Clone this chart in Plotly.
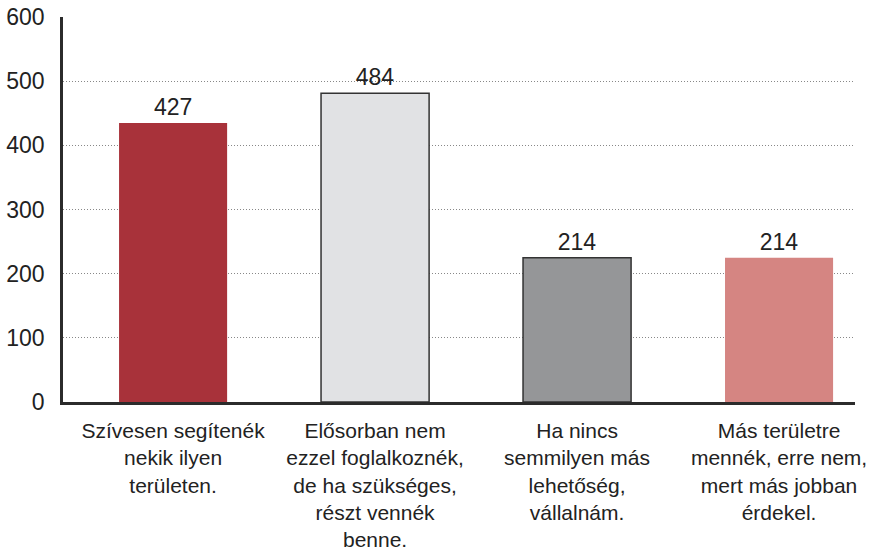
import plotly.graph_objects as go

# Answer categories (Hungarian survey)
categories = [
    "Szívesen segítenék<br>nekik ilyen<br>területen.",
    "Elősorban nem<br>ezzel foglalkoznék,<br>de ha szükséges,<br>részt vennék<br>benne.",
    "Ha nincs<br>semmilyen más<br>lehetőség,<br>vállalnám.",
    "Más területre<br>mennék, erre nem,<br>mert más jobban<br>érdekel.",
]
# bar heights as drawn in the picture, and the printed value labels
bar_heights = [435, 481, 225, 225]
value_labels = ["427", "484", "214", "214"]
yticks = [0, 100, 200, 300, 400, 500, 600]

colors = ["#a8323a", "#e1e2e4", "#959698", "#d58582"]
outline_w = [0, 1.5, 1.5, 0]

fig = go.Figure()
fig.add_trace(go.Bar(
    x=list(range(len(categories))),
    y=bar_heights,
    width=0.535,
    marker=dict(color=colors, line=dict(color="#333333", width=outline_w)),
    text=value_labels,
    textposition="outside",
    cliponaxis=False,
    textfont=dict(size=23, color="#222222"),
    hoverinfo="skip",
))

fig.update_layout(
    width=878, height=552,
    margin=dict(l=63, r=23, t=17, b=150),
    paper_bgcolor="white", plot_bgcolor="white",
    font=dict(family="Liberation Sans, Arial, sans-serif", size=23, color="#222222"),
    showlegend=False,
)
fig.update_xaxes(
    range=[-0.545, 3.376],
    tickmode="array",
    tickvals=list(range(len(categories))),
    ticktext=categories,
    tickangle=0,
    tickfont=dict(size=21),
    showline=True, linecolor="#2b2b2b", linewidth=2.5,
    showgrid=False, zeroline=False, automargin=False,
    ticks="", ticklabelstandoff=8,
)
fig.update_yaxes(
    range=[0, 600],
    tickmode="array", tickvals=yticks,
    showline=True, linecolor="#2b2b2b", linewidth=2.5,
    showgrid=True, gridcolor="#888888", griddash="1px,2px", gridwidth=1,
    zeroline=False, automargin=False, ticklabeloverflow="allow",
    ticks="", ticklabelstandoff=11,
)

# drop the default 8px page margin so the figure fills the window exactly
fig.write_html("out.html", config={"displayModeBar": False},
               post_script="document.body.style.margin='0';")
